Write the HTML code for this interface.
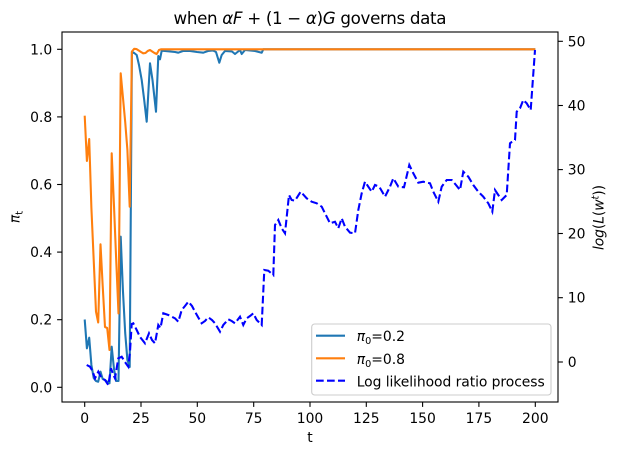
<!DOCTYPE html>
<html><head><meta charset="utf-8"><style>html,body{margin:0;padding:0;background:#fff}svg{display:block}</style></head>
<body>
<svg width="621" height="455" viewBox="0 0 621 455" xmlns="http://www.w3.org/2000/svg" font-family="'DejaVu Sans','Liberation Sans',sans-serif">
<rect x="0" y="0" width="621" height="455" fill="#fff"/>
<!-- title -->
<text x="310" y="24" font-size="16.7" text-anchor="middle" textLength="273" lengthAdjust="spacing" fill="#000">when <tspan font-style="italic">αF</tspan> + (1 − <tspan font-style="italic">α</tspan>)<tspan font-style="italic">G</tspan> governs data</text>

<!-- series -->
<g fill="none" stroke-linejoin="round" stroke-width="2.08">
<polyline stroke="#1f77b4" points="84.7,319.5 86.9,348.3 89.2,337.7 91.4,365 93.7,378 96,381 98.2,381.7 100.5,371.7 102.7,379 105,380 107.2,381.7 109.5,383.3 111.7,346.7 114,369 116.2,381 118.5,381 120.7,236.7 122.9,290 125.2,333 127.4,360 129.7,367 131.9,52 134.2,53 136.7,55 139,65 141.7,80 144.2,100 146.7,121.7 150,63.3 152.5,80 156,111.7 158.3,56 160,59.3 161.7,50.7 165,51 170,51.5 175,52 178.3,52.7 183,51 190,51 197,52 203.3,52.7 208,51 213,50.5 216,52 219.3,62.7 221.7,55 225,51 232,51.5 235,54 240,50 241.7,54 245,50 250,50.5 255,51 261.7,52.7 263.3,49.3 535.3,49.3"/>
<polyline stroke="#ff7f0e" points="84.7,115.7 86.9,161 89.2,139 91.4,208 93.7,260 96,311.7 98.2,322.5 100.5,244.3 102.7,286 105,327 107.2,328 109.5,350 111.7,153.3 114,206 116.2,260 118.5,313.5 120.7,73.3 122.9,97 125.2,122 127.4,150 129.7,206.7 131.9,51.5 134.2,48.8 136.4,49 138.7,50.5 141,52 143.2,53.3 145.5,53 147.7,51 150,50 152.2,51.5 154.5,53 156.7,54 159,50 161.2,49.3 535.3,49.3"/>
<polyline stroke="#0000ff" stroke-dasharray="7.7 3.3" stroke-linejoin="miter" points="86.7,365 90,366.7 92.5,371 95,378.3 98.3,371.7 101.7,378.3 105,380 108.3,385 111,368.3 113,374 115,378.3 118.3,358.3 121.7,356.7 125,362 128.3,366.7 130,351.7 131.7,324 133.3,323.3 136.7,330 140,337 145,343.3 149,333.3 152,340 155,343.3 158.3,325 160.5,328 163.3,313.3 168.3,315 171.7,316.7 175,318.3 178.3,321.7 181.7,310 185,306 188.3,301.7 192,306 195,311.7 198,317 201.7,323.3 205,321 208.3,317.3 212,320 215,323.3 220,331.7 223.3,325 228.3,319.3 231.7,321 235,323.3 240,316.7 243.3,325 246.7,318.3 250,316 253.3,313.3 256.7,320 261.7,325 264.3,270 268.3,270.7 273.3,275 275,225 278.3,220 281.7,228.3 285,233.3 289,195 291.7,200 295,200.7 300.7,191.7 306.7,198.3 311.7,201.7 316.7,203.3 321.7,206.7 326.7,216.7 330,223.3 335,221.7 338.3,228.3 341.7,218.3 345,226.7 350,232.7 355,233.3 358.3,210 361.7,193.3 365,181.7 368.3,186.7 371.7,191.7 375,185 379.3,186.7 385,196.7 390,186.7 393.3,178.3 398.3,186.7 404,187.3 409.3,165 413.3,173.3 418.3,182.7 423.3,181.7 430,183.3 433.3,191.7 438.3,201.7 441.7,186.7 446.7,180 451.7,180 456,185 460,190 463.3,171.7 468.3,176.7 473.3,185 478.3,191.7 483.3,196.7 488.3,203.3 492.3,211.7 495,190 498.3,195 501.7,200 506.7,195 510,143.3 511.7,142 515,140 516.7,111.7 520,108.3 523.3,100 526.7,103.3 530.7,110 535,50"/>
</g>

<!-- axes box -->
<rect x="62" y="32" width="496" height="370" fill="none" stroke="#000" stroke-width="1.1"/>

<!-- left ticks -->
<g stroke="#000" stroke-width="1.1">
<line x1="57.1" y1="387.3" x2="62" y2="387.3"/>
<line x1="57.1" y1="319.7" x2="62" y2="319.7"/>
<line x1="57.1" y1="252.1" x2="62" y2="252.1"/>
<line x1="57.1" y1="184.5" x2="62" y2="184.5"/>
<line x1="57.1" y1="116.9" x2="62" y2="116.9"/>
<line x1="57.1" y1="49.3" x2="62" y2="49.3"/>
<!-- right ticks -->
<line x1="558" y1="362" x2="562.9" y2="362"/>
<line x1="558" y1="297.7" x2="562.9" y2="297.7"/>
<line x1="558" y1="233.5" x2="562.9" y2="233.5"/>
<line x1="558" y1="169.6" x2="562.9" y2="169.6"/>
<line x1="558" y1="105.5" x2="562.9" y2="105.5"/>
<line x1="558" y1="41.3" x2="562.9" y2="41.3"/>
<!-- bottom ticks -->
<line x1="84.7" y1="402" x2="84.7" y2="406.9"/>
<line x1="141" y1="402" x2="141" y2="406.9"/>
<line x1="197.3" y1="402" x2="197.3" y2="406.9"/>
<line x1="253.7" y1="402" x2="253.7" y2="406.9"/>
<line x1="310" y1="402" x2="310" y2="406.9"/>
<line x1="366.3" y1="402" x2="366.3" y2="406.9"/>
<line x1="422.6" y1="402" x2="422.6" y2="406.9"/>
<line x1="478.9" y1="402" x2="478.9" y2="406.9"/>
<line x1="535.3" y1="402" x2="535.3" y2="406.9"/>
</g>

<g font-size="13.9" fill="#000">
<g text-anchor="end">
<text x="52.2" y="392.3">0.0</text>
<text x="52.2" y="324.7">0.2</text>
<text x="52.2" y="257.1">0.4</text>
<text x="52.2" y="189.5">0.6</text>
<text x="52.2" y="121.9">0.8</text>
<text x="52.2" y="54.3">1.0</text>
</g>
<g text-anchor="start">
<text x="567.8" y="367">0</text>
<text x="567.8" y="302.7">10</text>
<text x="567.8" y="238.5">20</text>
<text x="567.8" y="174.6">30</text>
<text x="567.8" y="110.5">40</text>
<text x="567.8" y="46.3">50</text>
</g>
<g text-anchor="middle">
<text x="84.7" y="423">0</text>
<text x="141" y="423">25</text>
<text x="197.3" y="423">50</text>
<text x="253.7" y="423">75</text>
<text x="310" y="423">100</text>
<text x="366.3" y="423">125</text>
<text x="422.6" y="423">150</text>
<text x="478.9" y="423">175</text>
<text x="535.3" y="423">200</text>
</g>
<text x="310" y="442" text-anchor="middle">t</text>
<text transform="translate(19.5,217) rotate(-90)" text-anchor="middle"><tspan font-style="italic">π</tspan><tspan font-size="9.7" dy="3">t</tspan></text>
<text transform="translate(603.5,217.5) rotate(-90)" text-anchor="middle" textLength="65" lengthAdjust="spacing"><tspan font-style="italic">log</tspan>(<tspan font-style="italic">L</tspan>(<tspan font-style="italic">w</tspan><tspan font-size="9.7" dy="-5" font-style="italic">t</tspan><tspan dy="5">))</tspan></text>
</g>

<!-- legend -->
<rect x="311.7" y="324" width="239.3" height="71" rx="3" ry="3" fill="#fff" fill-opacity="0.8" stroke="#cccccc" stroke-width="1.1"/>
<g stroke-width="2.08">
<line x1="316" y1="335.7" x2="345" y2="335.7" stroke="#1f77b4"/>
<line x1="316" y1="358.3" x2="345" y2="358.3" stroke="#ff7f0e"/>
<line x1="316" y1="380.7" x2="345" y2="380.7" stroke="#0000ff" stroke-dasharray="7.7 3.3"/>
</g>
<g font-size="13.9" fill="#000">
<text x="356.7" y="341.2"><tspan font-style="italic">π</tspan><tspan font-size="9.7" dy="3">0</tspan><tspan dy="-3">=0.2</tspan></text>
<text x="356.7" y="363.8"><tspan font-style="italic">π</tspan><tspan font-size="9.7" dy="3">0</tspan><tspan dy="-3">=0.8</tspan></text>
<text x="356.7" y="386.3" textLength="188" lengthAdjust="spacing">Log likelihood ratio process</text>
</g>
</svg>
</body></html>
